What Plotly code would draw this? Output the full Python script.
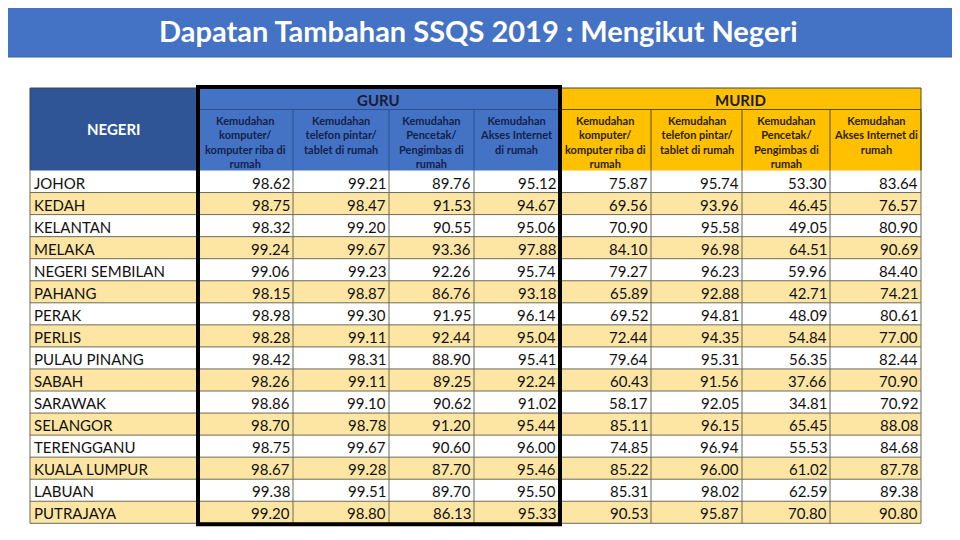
import plotly.graph_objects as go

# Data: SSQS 2019 additional findings by state (percent)
negeri = ["JOHOR", "KEDAH", "KELANTAN", "MELAKA", "NEGERI SEMBILAN", "PAHANG", "PERAK",
          "PERLIS", "PULAU PINANG", "SABAH", "SARAWAK", "SELANGOR", "TERENGGANU",
          "KUALA LUMPUR", "LABUAN", "PUTRAJAYA"]

guru_komputer = [98.62, 98.75, 98.32, 99.24, 99.06, 98.15, 98.98, 98.28, 98.42, 98.26, 98.86, 98.70, 98.75, 98.67, 99.38, 99.20]
guru_telefon = [99.21, 98.47, 99.20, 99.67, 99.23, 98.87, 99.30, 99.11, 98.31, 99.11, 99.10, 98.78, 99.67, 99.28, 99.51, 98.80]
guru_pencetak = [89.76, 91.53, 90.55, 93.36, 92.26, 86.76, 91.95, 92.44, 88.90, 89.25, 90.62, 91.20, 90.60, 87.70, 89.70, 86.13]
guru_internet = [95.12, 94.67, 95.06, 97.88, 95.74, 93.18, 96.14, 95.04, 95.41, 92.24, 91.02, 95.44, 96.00, 95.46, 95.50, 95.33]

murid_komputer = [75.87, 69.56, 70.90, 84.10, 79.27, 65.89, 69.52, 72.44, 79.64, 60.43, 58.17, 85.11, 74.85, 85.22, 85.31, 90.53]
murid_telefon = [95.74, 93.96, 95.58, 96.98, 96.23, 92.88, 94.81, 94.35, 95.31, 91.56, 92.05, 96.15, 96.94, 96.00, 98.02, 95.87]
murid_pencetak = [53.30, 46.45, 49.05, 64.51, 59.96, 42.71, 48.09, 54.84, 56.35, 37.66, 34.81, 65.45, 55.53, 61.02, 62.59, 70.80]
murid_internet = [83.64, 76.57, 80.90, 90.69, 84.40, 74.21, 80.61, 77.00, 82.44, 70.90, 70.92, 88.08, 84.68, 87.78, 89.38, 90.80]

sub_headers = ["Kemudahan<br>komputer/<br>komputer riba di<br>rumah",
               "Kemudahan<br>telefon pintar/<br>tablet di rumah",
               "Kemudahan<br>Pencetak/<br>Pengimbas di<br>rumah"]
guru_last = "Kemudahan<br>Akses Internet<br>di rumah"
murid_last = "Kemudahan<br>Akses Internet di<br>rumah"

columns = [guru_komputer, guru_telefon, guru_pencetak, guru_internet,
           murid_komputer, murid_telefon, murid_pencetak, murid_internet]

# layout geometry (pixel-like axis units)
edges = [30, 198, 293, 389, 474, 559, 651, 742, 830, 921]
top, group_bottom, head_bottom = 88, 109.5, 170.5
row_h = 22.05

DARK_BLUE = "#2F5597"
BLUE = "#4472C4"
GOLD = "#FFC000"
STRIPE = "#FDE5A4"
LINE = "#6b6b5a"
FONT = "Lato"

shapes = []
ann = []

# title banner
shapes.append(dict(type="rect", x0=0, x1=960, y0=1, y1=57, fillcolor=BLUE,
                   line=dict(color="#3a62ad", width=1), layer="below"))
ann.append(dict(x=478, y=30, text="<b>Dapatan Tambahan SSQS 2019 : Mengikut Negeri</b>",
                showarrow=False, font=dict(family=FONT, size=29, color="white")))

# header blocks
shapes.append(dict(type="rect", x0=edges[0], x1=edges[1], y0=top, y1=head_bottom,
                   fillcolor=DARK_BLUE, line=dict(width=0), layer="below"))
shapes.append(dict(type="rect", x0=edges[1], x1=edges[5], y0=top, y1=head_bottom,
                   fillcolor=BLUE, line=dict(width=0), layer="below"))
shapes.append(dict(type="rect", x0=edges[5], x1=edges[9], y0=top, y1=head_bottom,
                   fillcolor=GOLD, line=dict(width=0), layer="below"))
ann.append(dict(x=(edges[0] + edges[1]) / 2, y=(top + head_bottom) / 2, text="<b>NEGERI</b>",
                showarrow=False, font=dict(family=FONT, size=15, color="white")))
ann.append(dict(x=(edges[1] + edges[5]) / 2, y=(top + group_bottom) / 2 + 1, text="<b>GURU</b>",
                showarrow=False, font=dict(family=FONT, size=15, color="#1b1b33")))
ann.append(dict(x=(edges[5] + edges[9]) / 2, y=(top + group_bottom) / 2 + 1, text="<b>MURID</b>",
                showarrow=False, font=dict(family=FONT, size=15, color="#1b1b1b")))

# header lines
for x0, x1, c in [(edges[1], edges[5], "#2f4f8f"), (edges[5], edges[9], "#5a4a10")]:
    shapes.append(dict(type="line", x0=x0, x1=x1, y0=group_bottom, y1=group_bottom,
                       line=dict(color=c, width=1)))
shapes.append(dict(type="line", x0=edges[0], x1=edges[9], y0=top, y1=top,
                   line=dict(color="#444", width=1)))
for k in range(1, 9):
    c = "#2f4f8f" if k <= 4 else "#5a4a10"
    shapes.append(dict(type="line", x0=edges[k + 1], x1=edges[k + 1], y0=group_bottom, y1=head_bottom,
                       line=dict(color=c, width=1)))

# sub headers sit at the top of their cells
for k in range(8):
    txt = sub_headers[k % 4] if k % 4 < 3 else (guru_last if k < 4 else murid_last)
    col = "#14224a" if k < 4 else "#2b2200"
    ann.append(dict(x=(edges[k + 1] + edges[k + 2]) / 2, y=group_bottom + 2, yanchor="top",
                    text="<b>" + txt + "</b>", showarrow=False,
                    font=dict(family=FONT, size=11, color=col)))

# body rows
for i, name in enumerate(negeri):
    y0 = head_bottom + i * row_h
    y1 = y0 + row_h
    if i % 2 == 1:
        shapes.append(dict(type="rect", x0=edges[0], x1=edges[9], y0=y0, y1=y1,
                           fillcolor=STRIPE, line=dict(width=0), layer="below"))
    shapes.append(dict(type="line", x0=edges[0], x1=edges[9], y0=y1, y1=y1,
                       line=dict(color=LINE, width=1)))
    ann.append(dict(x=edges[0] + 2, y=(y0 + y1) / 2 + 1, text=name, xanchor="left",
                    showarrow=False, font=dict(family=FONT, size=15, color="#111")))
    for k, vals in enumerate(columns):
        ann.append(dict(x=edges[k + 2] - 1, y=(y0 + y1) / 2 + 1, text=f"{vals[i]:.2f}",
                        xanchor="right", showarrow=False,
                        font=dict(family=FONT, size=15, color="#111")))

body_bottom = head_bottom + len(negeri) * row_h
for x in edges:
    shapes.append(dict(type="line", x0=x, x1=x, y0=head_bottom, y1=body_bottom,
                       line=dict(color=LINE, width=1)))
shapes.append(dict(type="line", x0=edges[0], x1=edges[0], y0=top, y1=head_bottom,
                   line=dict(color="#444", width=1)))
shapes.append(dict(type="line", x0=edges[9], x1=edges[9], y0=top, y1=head_bottom,
                   line=dict(color="#5a4a10", width=1)))

# thick frame round GURU block
shapes.append(dict(type="rect", x0=edges[1], x1=edges[5] + 1, y0=top - 1, y1=body_bottom + 1,
                   line=dict(color="black", width=4)))

# the page body has an 8px margin, so the figure covers 8..960 of the window
fig = go.Figure()
fig.update_layout(
    width=952, height=532,
    margin=dict(l=0, r=0, t=0, b=0),
    paper_bgcolor="white", plot_bgcolor="white",
    xaxis=dict(range=[8, 960], visible=False, fixedrange=True),
    yaxis=dict(range=[540, 8], visible=False, fixedrange=True),
    shapes=shapes, annotations=ann, showlegend=False,
)
fig.write_html("out.html")
